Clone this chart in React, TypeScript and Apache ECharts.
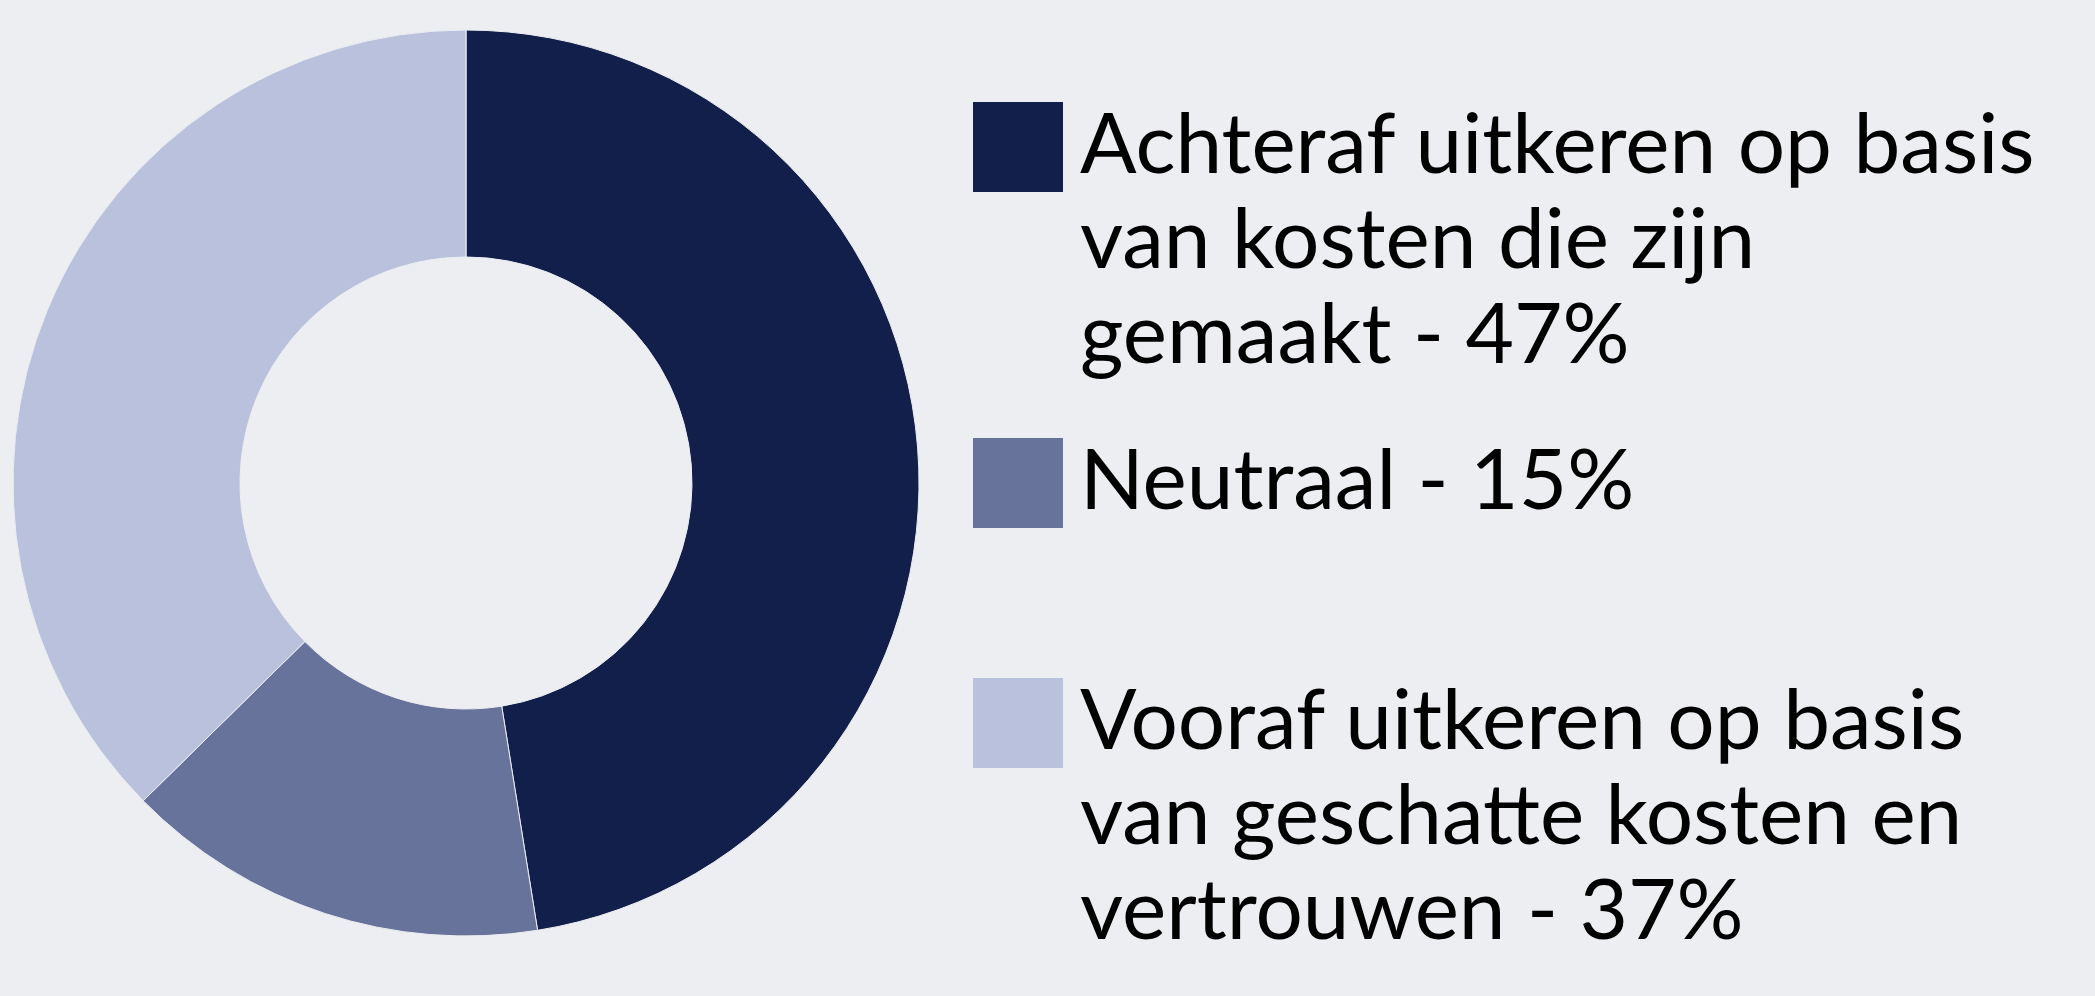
import React, { useEffect, useRef } from "react";
import * as echarts from "echarts";

const categories = [
  "Achteraf uitkeren op basis van kosten die zijn gemaakt",
  "Neutraal",
  "Vooraf uitkeren op basis van geschatte kosten en vertrouwen",
];
const values = [47, 15, 37];
const colors = ["#121f4b", "#67739b", "#b9c1dd"];
const legendLines = [
  ["Achteraf uitkeren op basis", "van kosten die zijn", "gemaakt - 47%"],
  ["Neutraal - 15%"],
  ["Vooraf uitkeren op basis", "van geschatte kosten en", "vertrouwen - 37%"],
];
const legendTops = [102, 438, 678];

const BG = "#edeef2";

export default function App() {
  const ref = useRef<HTMLDivElement>(null);
  useEffect(() => {
    if (!ref.current) return;
    const chart = echarts.init(ref.current, null, { renderer: "svg" });
    const graphic: any[] = [];
    legendLines.forEach((lines, i) => {
      graphic.push({
        type: "rect",
        left: 973,
        top: legendTops[i],
        shape: { width: 90, height: 90 },
        style: { fill: colors[i] },
      });
      graphic.push({
        type: "text",
        left: 1080,
        top: legendTops[i] - 9,
        style: {
          text: lines.join("\n"),
          fontFamily: "Lato",
          fontSize: 83.7,
          lineHeight: 95,
          fill: "#000000",
        },
      });
    });
    chart.setOption({
      animation: false,
      backgroundColor: BG,
      series: [
        {
          type: "pie",
          center: [466, 483],
          radius: [226, 453],
          startAngle: 90,
          clockwise: true,
          label: { show: false },
          labelLine: { show: false },
          emphasis: { disabled: true },
          itemStyle: { borderColor: BG, borderWidth: 1 },
          data: categories.map((name, i) => ({
            name,
            value: values[i],
            itemStyle: { color: colors[i] },
          })),
        },
      ],
      graphic,
    });
    return () => chart.dispose();
  }, []);
  return (
    <div
      ref={ref}
      style={{ position: "fixed", left: 0, top: 0, width: 2095, height: 996 }}
    />
  );
}
